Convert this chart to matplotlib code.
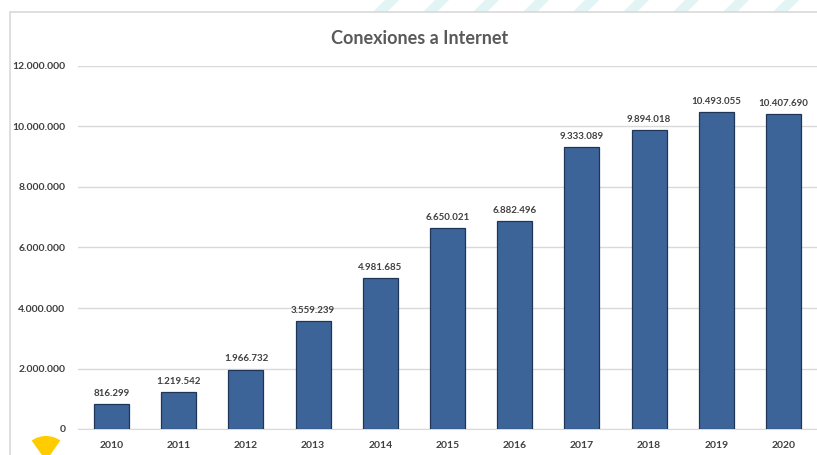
import matplotlib
matplotlib.use("Agg")
import matplotlib.pyplot as plt
from matplotlib.patches import Rectangle, Polygon, Wedge
import numpy as np

years = ["2010", "2011", "2012", "2013", "2014", "2015", "2016", "2017", "2018", "2019", "2020"]
values = [816299, 1219542, 1966732, 3559239, 4981685, 6650021, 6882496, 9333089, 9894018, 10493055, 10407690]
yticks = [0, 2000000, 4000000, 6000000, 8000000, 10000000, 12000000]

def fmt(v):
    return f"{v:,}".replace(",", ".")

plt.rcParams['font.family'] = ['Lato', 'DejaVu Sans']

W, H = 817, 455
fig = plt.figure(figsize=(W/100, H/100), dpi=100)
fig.patch.set_facecolor("white")

# decorative stripes at top
for i in range(9):
    x0 = 385 + i*50
    poly = Polygon([[x0/W, 1], [(x0+14)/W, 1], [(x0+2)/W, 1-12/H], [(x0-12)/W, 1-12/H]],
                   closed=True, transform=fig.transFigure, facecolor="#e3f4f4", edgecolor="none", zorder=-2)
    fig.patches.append(poly)

# chart frame
frame = Rectangle((10/W, -0.05), 1.2, 1-12/H+0.05, transform=fig.transFigure,
                  facecolor="white", edgecolor="#d9d9d9", linewidth=1.2, zorder=-1)
fig.patches.append(frame)

ax = fig.add_axes([78/W, 1-429/H, (817-78)/W, (429-66)/H])
ax.set_zorder(1)
ax.set_facecolor("none")
x = np.arange(len(years))
ax.bar(x, values, width=0.52, color="#3d6499", edgecolor="#1e3557", linewidth=0.9, zorder=3)
for xi, v in zip(x, values):
    ax.text(xi, v + 200000, fmt(v), ha="center", va="bottom", fontsize=7,
            fontweight="bold", color="#404040", zorder=4)

ax.set_xlim(-0.5, 10.5)
ax.set_ylim(0, 12000000)
ax.set_yticks(yticks)
ax.set_yticklabels([fmt(v) for v in yticks])
ax.set_xticks(x)
ax.set_xticklabels(years)
ax.yaxis.grid(True, color="#d9d9d9", linewidth=1, zorder=0)
ax.set_axisbelow(True)
for s in ["top", "right", "left"]:
    ax.spines[s].set_visible(False)
ax.spines["bottom"].set_color("#d9d9d9")
ax.tick_params(axis="both", length=0, labelsize=7.5, labelcolor="#404040")
ax.tick_params(axis="y", pad=9)
ax.tick_params(axis="x", pad=9)
for lbl in ax.get_xticklabels() + ax.get_yticklabels():
    lbl.set_fontweight("bold")

# yellow fan bottom-left
wed = Wedge((0.46, -0.06), 0.25, 55, 125, transform=fig.dpi_scale_trans,
            facecolor="#ffcc00", edgecolor="none", zorder=5)
fig.patches.append(wed)

fig.text(420/W, 1-38/H, "Conexiones a Internet", ha="center", va="center",
         fontsize=13, fontweight="bold", color="#595959")

fig.savefig("out.png", dpi=100, facecolor="white")
